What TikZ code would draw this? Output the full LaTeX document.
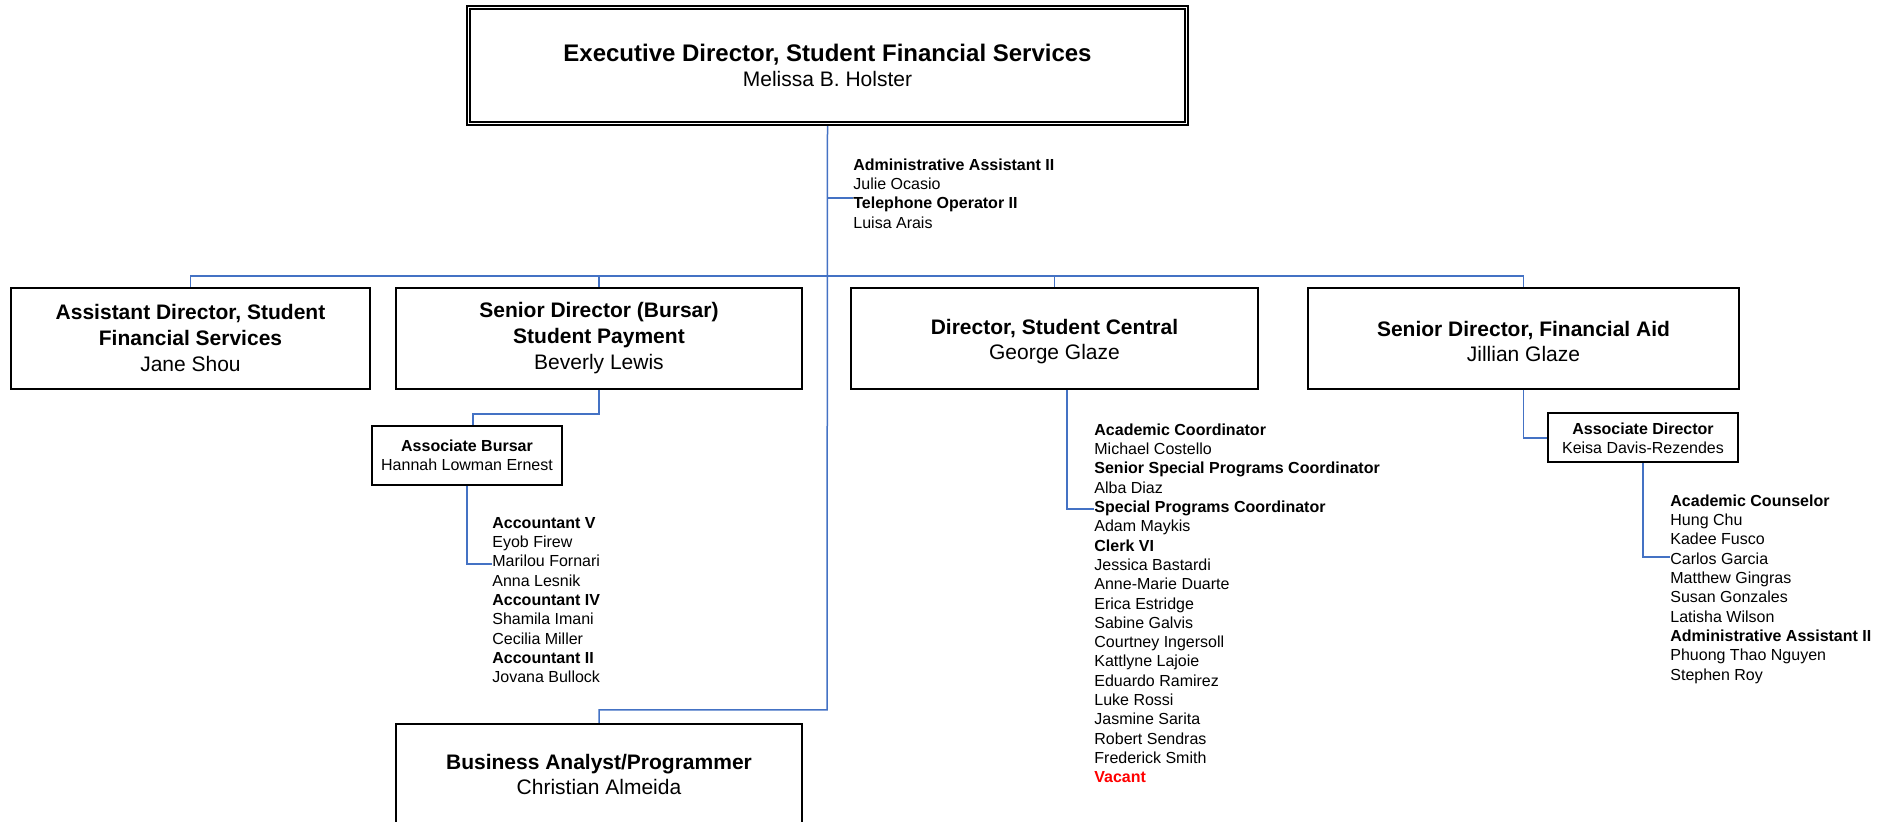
\documentclass[tikz,border=0pt]{standalone}
\usepackage{fontspec}
\setmainfont{Liberation Sans}
\usetikzlibrary{calc}
\definecolor{connblue}{HTML}{4472C4}
\definecolor{vacred}{HTML}{FF0000}
\tikzset{
  conn/.style={draw=connblue, line width=0.75pt},
  bigbox/.style={draw=black, line width=1pt, inner sep=0pt, align=center,
    font=\fontsize{10.5}{13}\selectfont},
  smallbox/.style={draw=black, line width=1pt, inner sep=0pt, align=center,
    font=\fontsize{8}{9.5}\selectfont},
  stafflist/.style={anchor=north west, inner sep=0pt, align=left,
    font=\fontsize{8}{9.65}\selectfont},
}
\newcommand{\fstrut}{\rule{0pt}{6pt}}
\newcommand{\tstrut}{\rule{0pt}{10.2pt}}
\begin{document}
\begin{tikzpicture}[x=0.5pt,y=-0.5pt]
\useasboundingbox (0,0) rectangle (1892,822);

% top box
\node[draw=black, line width=1.25pt, inner sep=0pt, align=center,
      minimum width=360.5pt, minimum height=59.5pt,
      font=\fontsize{10.5}{12.5}\selectfont] (top) at (827.5,65.5)
  {{\fontsize{12}{12.5}\selectfont\bfseries Executive Director, Student Financial Services}\\Melissa B. Holster};
\draw[black, line width=0.65pt] ([xshift=2.1pt,yshift=-2.2pt]top.north west) rectangle ([xshift=-2.1pt,yshift=2.1pt]top.south east);

% second row
\node[bigbox, minimum width=179.5pt, minimum height=50.5pt] (b1) at (190.5,338.5)
  {\textbf{Assistant Director, Student}\\\textbf{Financial Services}\\Jane Shou};
\node[bigbox, minimum width=203pt, minimum height=50.5pt] (b2) at (599,338.5)
  {\textbf{Senior Director (Bursar)}\\\textbf{Student Payment}\\Beverly Lewis};
\node[bigbox, minimum width=203.5pt, minimum height=50.5pt, font=\fontsize{10.5}{12.5}\selectfont] (b3) at (1054.5,338.5)
  {\tstrut\textbf{Director, Student Central}\\George Glaze};
\node[bigbox, minimum width=215.5pt, minimum height=50.5pt, font=\fontsize{10.5}{12.5}\selectfont] (b4) at (1523.5,338.5)
  {\tstrut\textbf{Senior Director, Financial Aid}\\Jillian Glaze};
\node[bigbox, minimum width=203pt, minimum height=50.5pt, font=\fontsize{10.5}{12.5}\selectfont] (ba) at (599,774.5)
  {\textbf{Business Analyst/Programmer}\\Christian Almeida};

% small boxes
\node[smallbox, minimum width=95pt, minimum height=29.5pt] (ab) at (467,455.5)
  {\textbf{Associate Bursar}\\Hannah Lowman Ernest};
\node[smallbox, minimum width=95pt, minimum height=24.5pt] (ad) at (1643,438)
  {\textbf{Associate Director}\\Keisa Davis-Rezendes};

% staff lists
\node[stafflist] (adm) at (853,158)
  {\fstrut\textbf{Administrative Assistant II}\\Julie Ocasio\\\textbf{Telephone Operator II}\\Luisa Arais};
\node[stafflist] (bur) at (492,516)
  {\fstrut\textbf{Accountant V}\\Eyob Firew\\Marilou Fornari\\Anna Lesnik\\\textbf{Accountant IV}\\Shamila Imani\\Cecilia Miller\\\textbf{Accountant II}\\Jovana Bullock};
\node[stafflist] (cen) at (1094,423)
  {\fstrut\textbf{Academic Coordinator}\\Michael Costello\\\textbf{Senior Special Programs Coordinator}\\Alba Diaz\\\textbf{Special Programs Coordinator}\\Adam Maykis\\\textbf{Clerk VI}\\Jessica Bastardi\\Anne-Marie Duarte\\Erica Estridge\\Sabine Galvis\\Courtney Ingersoll\\Kattlyne Lajoie\\Eduardo Ramirez\\Luke Rossi\\Jasmine Sarita\\Robert Sendras\\Frederick Smith\\\textcolor{vacred}{\textbf{Vacant}}};
\node[stafflist] (fin) at (1670,494)
  {\fstrut\textbf{Academic Counselor}\\Hung Chu\\Kadee Fusco\\Carlos Garcia\\Matthew Gingras\\Susan Gonzales\\Latisha Wilson\\\textbf{Administrative Assistant II}\\Phuong Thao Nguyen\\Stephen Roy};

% junction coordinates
\coordinate (busy) at (0,276);
\coordinate (mainturn) at (827,710);
\coordinate (admj) at (827,198);
\coordinate (abturn) at (0,414);
\coordinate (burj) at (0,564);
\coordinate (cenj) at (0,509);
\coordinate (finj) at (0,557);

% connectors
\draw[conn] (top.south) -- (mainturn) -- (mainturn -| ba.north) -- (ba.north);
\draw[conn] (admj) -- (admj -| adm.west);
\draw[conn] (b1.north) -- (b1.north |- busy) -- (b4.north |- busy) -- (b4.north);
\draw[conn] (b2.north) -- (b2.north |- busy);
\draw[conn] (b3.north) -- (b3.north |- busy);
\draw[conn] (b2.south) -- (b2.south |- abturn) -- ([xshift=3pt]ab.north |- abturn) -- ([xshift=3pt]ab.north);
\draw[conn] (ab.south) -- (ab.south |- burj) -- (bur.west |- burj);
\draw[conn] ([xshift=6.25pt]b3.south) -- ([xshift=6.25pt]b3.south |- cenj) -- (cen.west |- cenj);
\draw[conn] (b4.south) -- (b4.south |- ad.west) -- (ad.west);
\draw[conn] (ad.south) -- (ad.south |- finj) -- (fin.west |- finj);
\end{tikzpicture}
\end{document}
